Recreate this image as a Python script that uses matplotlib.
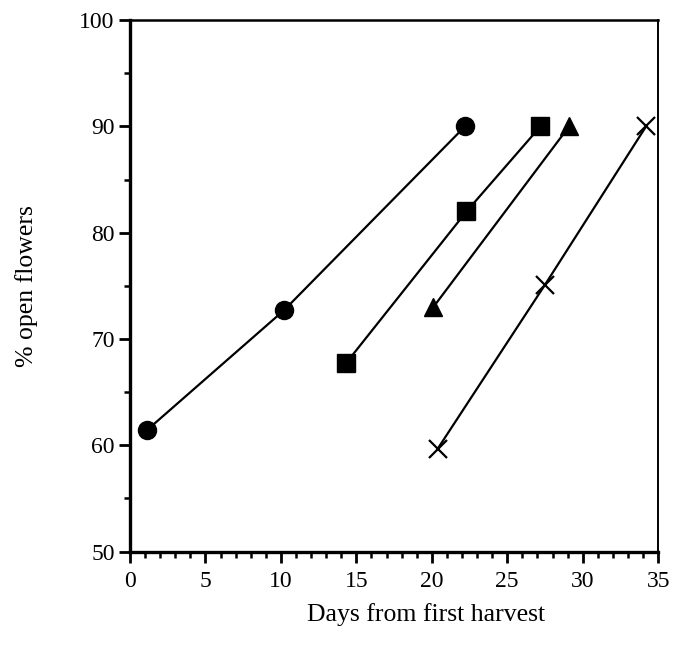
import matplotlib

matplotlib.use("Agg")
import matplotlib.pyplot as plt
from matplotlib.ticker import MultipleLocator

plt.rcParams["font.family"] = ["Liberation Serif", "DejaVu Serif"]

# days from first harvest / % open flowers, one series per marker
circle_x = [1.1, 10.2, 22.2]
circle_y = [61.4, 72.7, 90.0]
square_x = [14.3, 22.3, 27.2]
square_y = [67.7, 82.0, 90.0]
triangle_x = [20.1, 29.1]
triangle_y = [73.0, 90.0]
cross_x = [20.4, 27.5, 34.2]
cross_y = [59.7, 75.1, 90.0]

fig = plt.figure(figsize=(6.75, 6.49), dpi=100)
ax = fig.add_axes([0.1926, 0.150, 0.7824, 0.819])

ax.plot(circle_x, circle_y, "k-", lw=1.6, marker="o", ms=13, mfc="black")
ax.plot(square_x, square_y, "k-", lw=1.6, marker="s", ms=12.5, mfc="black")
ax.plot(triangle_x, triangle_y, "k-", lw=1.6, marker="^", ms=13, mfc="black")
ax.plot(cross_x, cross_y, "k-", lw=1.6, marker="x", ms=13, mew=1.6)

ax.set_xlim(0, 35)
ax.set_ylim(50, 100)
ax.xaxis.set_major_locator(MultipleLocator(5))
ax.xaxis.set_minor_locator(MultipleLocator(1))
ax.yaxis.set_major_locator(MultipleLocator(10))
ax.yaxis.set_minor_locator(MultipleLocator(5))

ax.spines["left"].set_linewidth(2.4)
ax.spines["bottom"].set_linewidth(2.4)
ax.spines["top"].set_linewidth(1.8)
ax.spines["right"].set_linewidth(1.4)

ax.tick_params(which="major", direction="out", length=8, width=2, labelsize=17,
               top=False, right=False)
ax.tick_params(which="minor", direction="out", length=4, width=1.8,
               top=False, right=False)
ax.tick_params(axis="x", pad=6)
ax.tick_params(axis="y", pad=3)

ax.set_xlabel("Days from first harvest", fontsize=18.5)
ax.xaxis.set_label_coords(0.56, -0.097)
ax.set_ylabel("% open flowers", fontsize=18.5, labelpad=30)

fig.savefig("out.png", dpi=100)
